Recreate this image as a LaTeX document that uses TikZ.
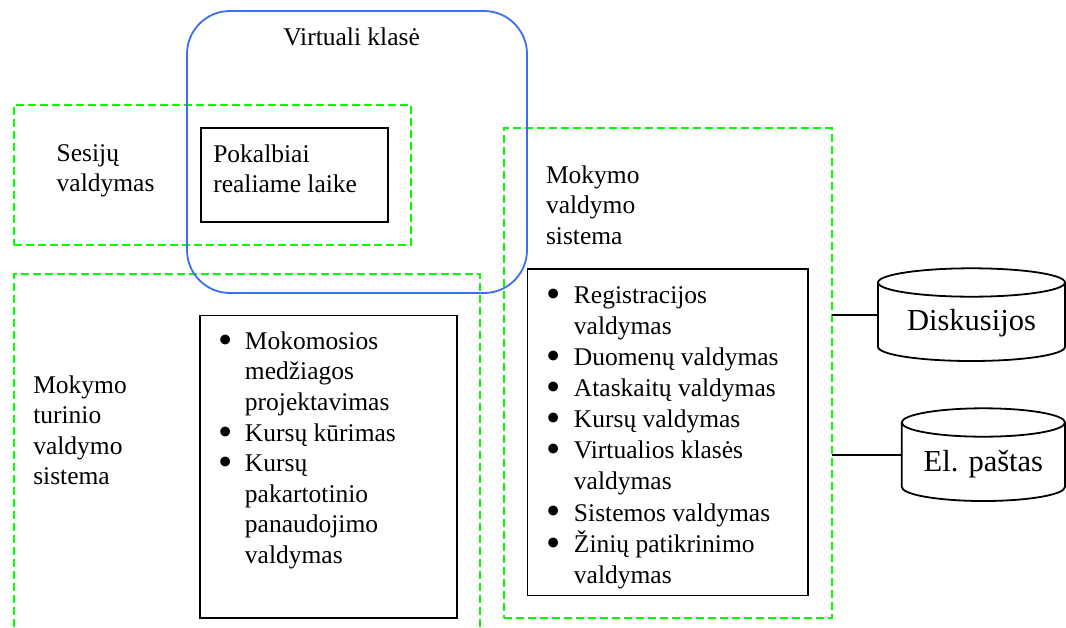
\documentclass[tikz,border=0pt]{standalone}
\usepackage{graphicx}
\usepackage{fontspec}
\setmainfont{Liberation Serif}
\definecolor{zonegreen}{RGB}{0,255,0}
\definecolor{classblue}{RGB}{60,110,245}
% list bullet, enlarged and lowered to sit on the x-height middle
\newcommand{\listbul}{\smash{\raisebox{-3.9pt}{\scalebox{1.6}{\textbullet}}}}
\begin{document}
\begin{tikzpicture}[x=1pt,y=-1pt,
  zone/.style={draw=zonegreen, line width=2pt, dash pattern=on 8pt off 4pt,
    inner sep=0pt, outer sep=0pt},
  panel/.style={draw=black, line width=1.8pt, inner sep=0pt, outer sep=0pt},
  vclass/.style={draw=classblue, line width=1.8pt, rounded corners=43pt,
    inner sep=0pt, outer sep=0pt},
  txt/.style={inner sep=0pt, outer sep=0pt, anchor=base west,
    font=\fontsize{25.5}{30.4}\selectfont},
  dbtxt/.style={inner sep=0pt, outer sep=0pt, anchor=base,
    font=\fontsize{30.5}{36}\selectfont},
  link/.style={draw=black, line width=1.8pt},
  dbshape/.style={draw=black, line width=1.8pt}]
\useasboundingbox (0,0) rectangle (1066,627);
\clip (0,0) rectangle (1066,627);

% zones (dashed green)
\node[zone, minimum width=396.7pt, minimum height=140.5pt] (sess) at (212.35,174.75) {};
\node[zone, minimum width=466.5pt, minimum height=366pt] (lcms) at (246.75,457) {};
\node[zone, minimum width=327.7pt, minimum height=489.7pt] (lms) at (667.85,373.15) {};

% virtual class (blue rounded frame)
\node[vclass, minimum width=340pt, minimum height=282pt] (vc) at (357,152) {};
\node[txt] (vctitle) at (283.3,45) {Virtuali klasė};

% session management
\node[txt] (sesslabel) at (56.7,161)
  {\begin{tabular}[t]{@{}l@{}}Sesijų\\valdymas\end{tabular}};
\node[panel, minimum width=187.3pt, minimum height=93.7pt] (chat) at (294.35,174.85) {};
\node[txt] (chattext) at (213.3,162)
  {\begin{tabular}[t]{@{}l@{}}Pokalbiai\\realiame laike\end{tabular}};

% learning content management system
\node[txt] (lcmslabel) at (33.3,393.3)
  {\begin{tabular}[t]{@{}l@{}}Mokymo\\turinio\\valdymo\\sistema\end{tabular}};
\node[panel, minimum width=257.3pt, minimum height=302.8pt] (lcmsbox) at (328.65,466.9) {};
\node[txt, font=\fontsize{25.5}{30.6}\selectfont] (lcmslist) at (218,349.3)
  {\begin{tabular}[t]{@{}l@{\hspace{12.7pt}}l@{}}
   \listbul & Mokomosios\\
            & medžiagos\\
            & projektavimas\\
   \listbul & Kursų kūrimas\\
   \listbul & Kursų\\
            & pakartotinio\\
            & panaudojimo\\
            & valdymas
   \end{tabular}};

% learning management system
\node[txt] (lmslabel) at (546,183.3)
  {\begin{tabular}[t]{@{}l@{}}Mokymo\\valdymo\\sistema\end{tabular}};
\node[panel, minimum width=280.8pt, minimum height=326.5pt] (lmsbox) at (667.9,432.25) {};
\begin{scope}
  \clip (lmsbox.north west) rectangle ([yshift=-12.5pt]lmsbox.south east);
  \node[txt, font=\fontsize{25.5}{31.1}\selectfont] (lmslist) at (546,303.3)
    {\begin{tabular}[t]{@{}l@{\hspace{13.7pt}}l@{}}
     \listbul & Registracijos\\
              & valdymas\\
     \listbul & Duomenų valdymas\\
     \listbul & Ataskaitų valdymas\\
     \listbul & Kursų valdymas\\
     \listbul & Virtualios klasės\\
              & valdymas\\
     \listbul & Sistemos valdymas\\
     \listbul & Žinių patikrinimo\\
              & valdymas
     \end{tabular}};
\end{scope}

% data stores
\draw[dbshape] (971.5,282.5) ellipse [x radius=93.5, y radius=14.2];
\draw[dbshape] (878,282.5) -- (878,346.8)
  arc[start angle=180, end angle=0, x radius=93.5, y radius=14.2] -- (1065,282.5);
\node[minimum width=187pt, minimum height=64pt, inner sep=0pt, outer sep=0pt] (forum) at (971.5,314.6) {};
\node[dbtxt] (forumtext) at (971.5,330) {Diskusijos};

\draw[dbshape] (983.35,422.5) ellipse [x radius=81.65, y radius=14.2];
\draw[dbshape] (901.7,422.5) -- (901.7,486.8)
  arc[start angle=180, end angle=0, x radius=81.65, y radius=14.2] -- (1065,422.5);
\node[minimum width=163.3pt, minimum height=64pt, inner sep=0pt, outer sep=0pt] (mail) at (983.35,455) {};
\node[dbtxt] (mailtext) at (983.35,471.7) {El. paštas};

% connectors
\draw[link] (lms.east |- forum.west) -- (forum.west);
\draw[link] (lms.east |- mail.west) -- (mail.west);
\end{tikzpicture}
\end{document}
